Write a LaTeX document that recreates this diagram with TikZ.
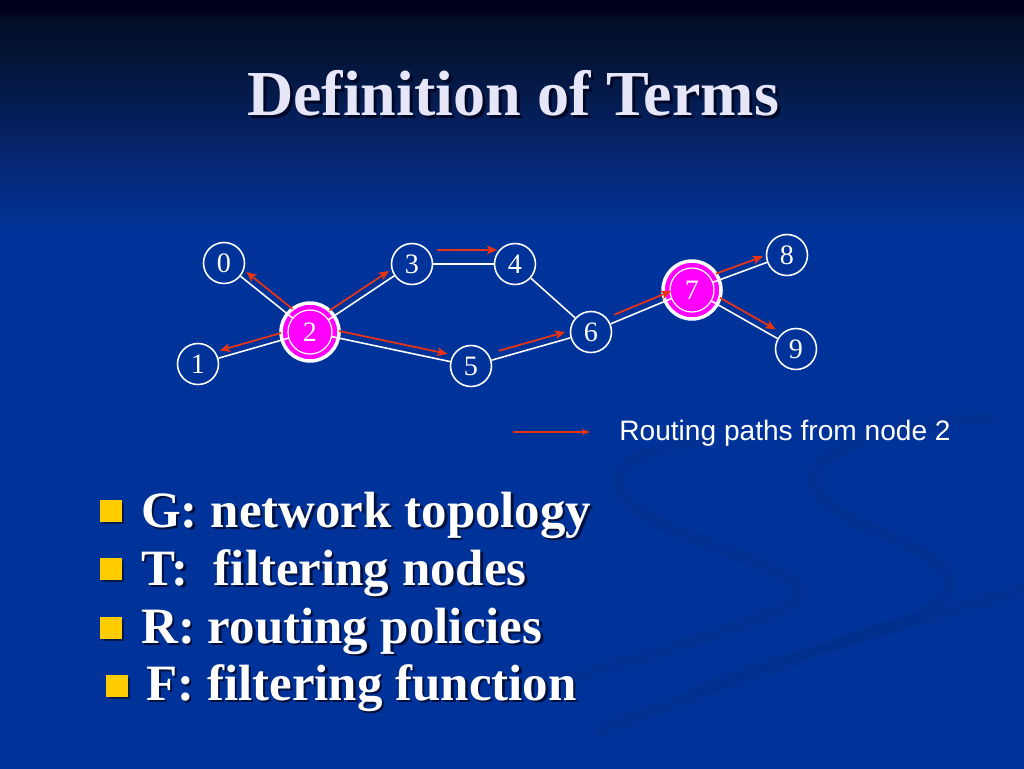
\documentclass[tikz,border=0pt]{standalone}
\usepackage{fontspec}
\setmainfont{Liberation Serif}
\newfontfamily\legendfont{Liberation Sans}
\usetikzlibrary{calc,arrows.meta,shadows}
\definecolor{bgtop}{RGB}{0,0,26}
\definecolor{bgdark}{RGB}{2,14,36}
\definecolor{bgnavy}{RGB}{4,26,74}
\definecolor{bgmid}{RGB}{6,40,120}
\definecolor{bgblue}{RGB}{0,51,153}
\definecolor{nodepink}{RGB}{255,0,255}
\definecolor{routered}{RGB}{232,52,20}
\definecolor{bulletgold}{RGB}{255,204,0}
\definecolor{titlewhite}{RGB}{230,230,248}
\definecolor{shadowblue}{RGB}{0,8,40}
\pgfdeclareverticalshading{slidebg}{100bp}{color(0bp)=(bgblue); color(25bp)=(bgblue);
  color(60bp)=(bgblue); color(64bp)=(bgmid); color(69bp)=(bgnavy); color(73.8bp)=(bgdark);
  color(74.2bp)=(bgtop); color(75bp)=(bgtop); color(100bp)=(bgtop)}

\begin{document}
\begin{tikzpicture}[x=0.02cm, y=-0.02cm,
  net/.style={circle, draw=white, line width=0.9pt, minimum size=0.82cm, inner sep=0pt,
    text=white, font=\fontsize{16}{16}\selectfont},
  filter/.style={net, fill=nodepink, line width=2pt, minimum size=1.16cm},
  ring/.style={white, line width=0.7pt},
  link/.style={white, line width=0.9pt},
  inner/.style={shorten <=12.5pt},
  route/.style={routered, line width=1pt, -{Stealth[length=6pt,width=5pt,inset=1.5pt]},
    shorten <=16pt, shorten >=13pt},
  swoosh/.style={black, opacity=0.04, line width=7pt, line cap=round},
  bullet/.style={fill=bulletgold, minimum size=12pt, inner sep=0pt,
    drop shadow={shadow xshift=1.2pt, shadow yshift=-1.2pt, opacity=0.5, fill=black}},
  item/.style={anchor=base west, inner sep=0pt, text=white, font=\bfseries\fontsize{29}{29}\selectfont},
  itemshadow/.style={item, text=shadowblue, opacity=0.8}]
% background
\shade[shading=slidebg] (0,0) rectangle (1024,768);
\useasboundingbox (0,0) rectangle (1024,768);
\draw[swoosh] (707,440) .. controls (600,455) and (590,490) .. (673,530)
  .. controls (760,565) and (840,585) .. (773,613) .. controls (700,640) and (620,665) .. (560,680);
\draw[swoosh] (990,418) .. controls (820,430) and (760,480) .. (870,528)
  .. controls (990,575) and (960,605) .. (880,630) .. controls (780,665) and (680,700) .. (600,730);
\draw[swoosh] (1024,590) .. controls (900,625) and (800,650) .. (700,690);

% title
\node[anchor=base, inner sep=0pt, text=shadowblue, font=\bfseries\fontsize{36.5}{36.5}\selectfont] (titleshadow) at (516,118) {Definition of Terms};
\node[anchor=base, inner sep=0pt, text=titlewhite, font=\bfseries\fontsize{36.5}{36.5}\selectfont] (title) at (513,115) {Definition of Terms};

% network
\node[net] (n0) at (224,263) {0};
\node[net] (n1) at (198,364) {1};
\node[filter] (n2) at (310,332) {2};
\node[net] (n3) at (412,264) {3};
\node[net] (n4) at (515,264) {4};
\node[net] (n5) at (471,366) {5};
\node[net] (n6) at (591,332) {6};
\node[filter] (n7) at (692,290) {7};
\node[net] (n8) at (787,255) {8};
\node[net] (n9) at (796,349) {9};
\draw[ring] (n2) circle[radius=0.44cm];
\draw[ring] (n7) circle[radius=0.44cm];

\draw[link, inner] (n2.center) -- (n0);
\draw[link, inner] (n2.center) -- (n1);
\draw[link, inner] (n2.center) -- (n3);
\draw[link, inner] (n2.center) -- (n5);
\draw[link] (n3) -- (n4);
\draw[link] (n4) -- (n6);
\draw[link] (n5) -- (n6);
\draw[link, inner] (n7.center) -- (n6);
\draw[link, inner] (n7.center) -- (n8);
\draw[link, inner] (n7.center) -- (n9);

% routing paths from node 2
\draw[route] ($(n2)!4pt!-90:(n0)$) -- ($(n0)!4pt!90:(n2)$);
\draw[route, shorten >=14pt] ($(n2)!4pt!-90:(n1)$) -- ($(n1)!4pt!90:(n2)$);
\draw[route] ($(n2)!4pt!90:(n3)$) -- ($(n3)!4pt!-90:(n2)$);
\draw[route, shorten >=14.5pt] ($(n2)!4pt!90:(n5)$) -- ($(n5)!4pt!-90:(n2)$);
\draw[route, shorten <=14.5pt, shorten >=10pt] ($(n3)!8pt!90:(n4)$) -- ($(n4)!8pt!-90:(n3)$);
\draw[route, shorten <=17.5pt, shorten >=14pt] ($(n5)!4pt!90:(n6)$) -- ($(n6)!4pt!-90:(n5)$);
\draw[route, shorten >=11pt] ($(n6)!4pt!90:(n7)$) -- ($(n7)!4pt!-90:(n6)$);
\draw[route] ($(n7)!4pt!90:(n8)$) -- ($(n8)!4pt!-90:(n7)$);
\draw[route, shorten >=15.5pt] ($(n7)!4pt!90:(n9)$) -- ($(n9)!4pt!-90:(n7)$);

% legend
\coordinate (lgtail) at (513,432);
\coordinate (lghead) at (590,432);
\draw[routered, line width=0.6pt, -{Stealth[length=5pt,width=3.5pt]}] (lgtail) -- (lghead);
\node[anchor=base west, inner sep=0pt, text=white, font=\legendfont\fontsize{16}{16}\selectfont] (lgtext) at (619,440) {Routing paths from node 2};

% terms
\node[bullet] (bg) at (111,511) {};
\node[itemshadow] (gshadow) at (143.5,529.5) {G: network topology};
\node[item] (gtext) at (141,527) {G: network topology};
\node[bullet] (bt) at (111,569) {};
\node[itemshadow] (tshadow) at (143.5,587.5) {T:\ \ filtering nodes};
\node[item] (ttext) at (141,585) {T:\ \ filtering nodes};
\node[bullet] (br) at (111,628) {};
\node[itemshadow] (rshadow) at (143.5,645.5) {R: routing policies};
\node[item] (rtext) at (141,643) {R: routing policies};
\node[bullet] (bf) at (117,686) {};
\node[itemshadow] (fshadow) at (148.5,702.5) {F: filtering function};
\node[item] (ftext) at (146,700) {F: filtering function};
\end{tikzpicture}
\end{document}
